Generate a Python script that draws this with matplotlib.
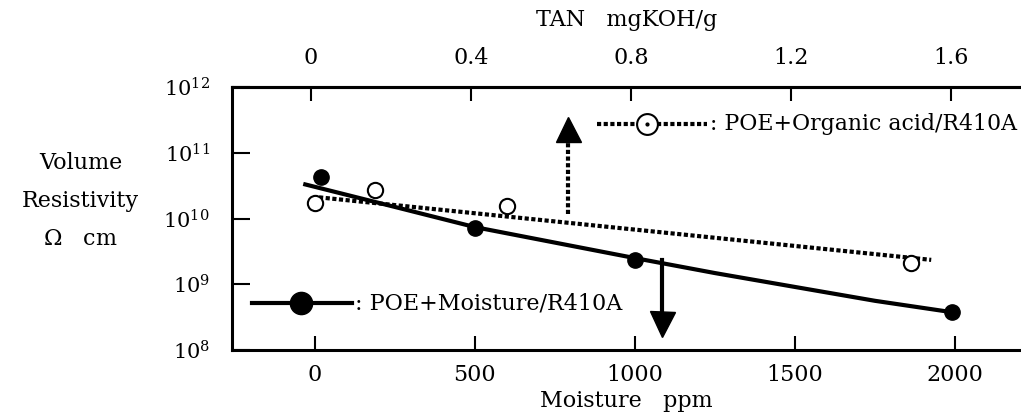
#!/usr/bin/env python3

# volume resistivity of POE oil vs moisture / organic acid content

import numpy as np
import matplotlib
matplotlib.use('Agg')
import matplotlib.pyplot as plt
from matplotlib.ticker import LogFormatterMathtext, FixedLocator, NullLocator

matplotlib.rcParams['font.family'] = 'DejaVu Serif'
matplotlib.rcParams['mathtext.fontset'] = 'dejavuserif'
matplotlib.rcParams['font.size'] = 16

# POE + moisture / R410A (filled circles), x in ppm
moist_ppm = [20, 500, 1000, 1990]
moist_res = [4.3e10, 7.2e9, 2.3e9, 3.8e8]
# hand-drawn trend curve through the moisture points
moist_fit_ppm = [-30, 250, 500, 750, 1000, 1250, 1500, 1750, 2000]
moist_fit_res = [3.3e10, 1.5e10, 7.4e9, 4.3e9, 2.5e9, 1.48e9, 9.1e8, 5.6e8, 3.7e8]

# POE + organic acid / R410A (open circles), x in TAN mgKOH/g
acid_tan = [0.01, 0.16, 0.49, 1.50]
acid_res = [1.7e10, 2.7e10, 1.57e10, 2.1e9]
acid_fit_tan = [0.02, 1.55]
acid_fit_res = [2.1e10, 2.35e9]

bottom_ticks = [0, 500, 1000, 1500, 2000]
top_ticks = [0, 0.4, 0.8, 1.2, 1.6]
y_ticks = [1e8, 1e9, 1e10, 1e11, 1e12]

# moisture ppm <-> TAN mgKOH/g as drawn on the two x axes
def tan2ppm(t):
    return np.asarray(t) * 1250.0 - 12.0

def ppm2tan(m):
    return (np.asarray(m) + 12.0) / 1250.0

fig = plt.figure(figsize=(10.21, 4.13), dpi=100)
ax = fig.add_axes([0.2272, 0.1525, 0.7728, 0.6368])
ax.set_yscale('log')
ax.set_xlim(-259, 2206)
ax.set_ylim(1e8, 1e12)

# trend lines
ax.plot(moist_fit_ppm, moist_fit_res, '-', color='black', lw=3)
ax.plot(tan2ppm(acid_fit_tan), acid_fit_res, color='black', lw=3,
        linestyle=(0, (1, 0.6)))

# data points
ax.plot(moist_ppm, moist_res, 'o', color='black', ms=11)
ax.plot(tan2ppm(acid_tan), acid_res, 'o', mfc='white', mec='black',
        mew=1.5, ms=11)

# arrows: acid raises resistivity, moisture lowers it
up_x, up_from, up_base = 790, 1.17e10, 1.5e11
ax.plot([up_x, up_x], [up_from, up_base], color='black', lw=3,
        linestyle=(0, (1, 0.6)))
ax.plot(up_x, 2.26e11, '^', color='black', ms=18)
dn_x, dn_from, dn_base = 1083, 2.3e9, 4.1e8
ax.plot([dn_x, dn_x], [dn_from, dn_base], color='black', lw=3)
ax.plot(dn_x, 2.53e8, 'v', color='black', ms=18)

# hand-made legends
tr = ax.transAxes
ax.plot([0.4626, 0.602], [0.859, 0.859], color='black', lw=3,
        linestyle=(0, (1, 0.6)), transform=tr)
ax.plot(0.526, 0.859, 'o', mfc='white', mec='black', mew=1.5, ms=15,
        transform=tr)
ax.plot(0.526, 0.859, '.', color='black', ms=4, transform=tr)
ax.text(0.606, 0.859, ': POE+Organic acid/R410A', transform=tr,
        va='center', ha='left', fontsize=15.8)
ax.plot([0.0253, 0.152], [0.1787, 0.1787], color='black', lw=3,
        transform=tr)
ax.plot(0.0875, 0.1787, 'o', color='black', ms=16, transform=tr)
ax.text(0.156, 0.1787, ': POE+Moisture/R410A', transform=tr,
        va='center', ha='left', fontsize=16)

# axes cosmetics
for side in ['left', 'bottom', 'top']:
    ax.spines[side].set_linewidth(2.2)
ax.spines['right'].set_visible(False)
ax.yaxis.set_major_locator(FixedLocator(y_ticks))
ax.yaxis.set_minor_locator(NullLocator())
ax.yaxis.set_major_formatter(LogFormatterMathtext())
ax.set_xticks(bottom_ticks)
ax.tick_params(axis='y', direction='in', length=13, width=1.5, pad=16,
               labelsize=15)
ax.tick_params(axis='x', direction='in', length=10, width=1.5, pad=10,
               labelsize=16)
ax.set_xlabel('Moisture   ppm', fontsize=16, labelpad=3)

top = ax.secondary_xaxis('top', functions=(ppm2tan, tan2ppm))
top.set_xticks(top_ticks)
top.set_xticklabels(['0', '0.4', '0.8', '1.2', '1.6'])
top.tick_params(direction='in', length=10, width=1.5, pad=13, labelsize=16)
top.spines['top'].set_linewidth(2.2)
top.set_xlabel('TAN   mgKOH/g', fontsize=16, labelpad=15)

fig.text(0.079, 0.513, 'Volume\nResistivity\n$\\Omega$   cm', ha='center',
         va='center', fontsize=16, linespacing=1.95)

plt.savefig('out.png', dpi=100)
